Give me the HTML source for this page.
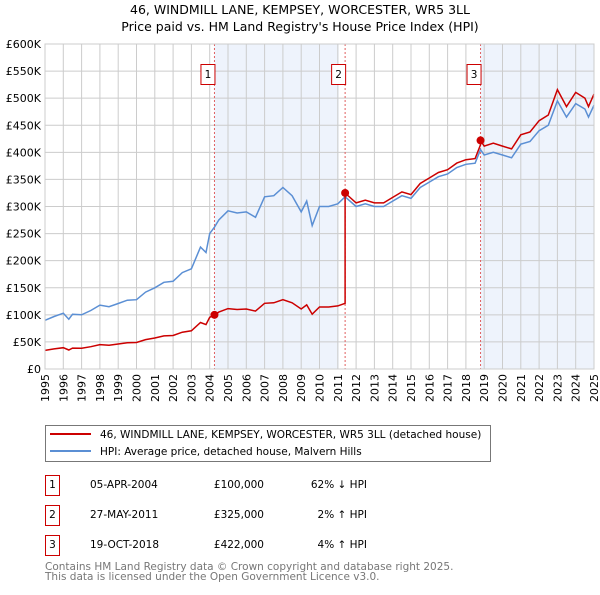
<!DOCTYPE html>
<html><head><meta charset="utf-8"><style>
body{margin:0;background:#fff;font-family:"Liberation Sans","DejaVu Sans",sans-serif;}
svg text{font-family:"DejaVu Sans","Liberation Sans",sans-serif;}
</style></head><body>
<svg id="c" width="600" height="590" xmlns="http://www.w3.org/2000/svg">
<text x="300" y="14" font-size="12.5" text-anchor="middle">46, WINDMILL LANE, KEMPSEY, WORCESTER, WR5 3LL</text>
<text x="300" y="31" font-size="12.5" text-anchor="middle">Price paid vs. HM Land Registry's House Price Index (HPI)</text>
<g id="plot"></g>
<g>
<rect x="45.5" y="425.5" width="445" height="36" fill="#fff" stroke="#777"/>
<line x1="50" y1="434" x2="91" y2="434" stroke="#cc0000" stroke-width="2"/>
<text x="100" y="438" font-size="10.5">46, WINDMILL LANE, KEMPSEY, WORCESTER, WR5 3LL (detached house)</text>
<line x1="50" y1="451" x2="91" y2="451" stroke="#5b8fd4" stroke-width="2"/>
<text x="100" y="455" font-size="10.5">HPI: Average price, detached house, Malvern Hills</text>
</g>
<g font-size="10.5">
<rect x="45.5" y="475.5" width="14" height="20" fill="#fff" stroke="#cc0000"/><text x="52.5" y="488" text-anchor="middle">1</text>
<text x="90" y="488">05-APR-2004</text><text x="264" y="488" text-anchor="end">£100,000</text><text x="367" y="488" text-anchor="end">62% ↓ HPI</text>
<rect x="45.5" y="505.5" width="14" height="20" fill="#fff" stroke="#cc0000"/><text x="52.5" y="518" text-anchor="middle">2</text>
<text x="90" y="518">27-MAY-2011</text><text x="264" y="518" text-anchor="end">£325,000</text><text x="367" y="518" text-anchor="end">2% ↑ HPI</text>
<rect x="45.5" y="535.5" width="14" height="20" fill="#fff" stroke="#cc0000"/><text x="52.5" y="548" text-anchor="middle">3</text>
<text x="90" y="548">19-OCT-2018</text><text x="264" y="548" text-anchor="end">£422,000</text><text x="367" y="548" text-anchor="end">4% ↑ HPI</text>
</g>
<text x="45" y="570" font-size="10.5" fill="#777">Contains HM Land Registry data © Crown copyright and database right 2025.</text>
<text x="45" y="580" font-size="10.5" fill="#777">This data is licensed under the Open Government Licence v3.0.</text>
</svg>
<script>
const hpiYears=[1995,1995.5,1996,1996.3,1996.5,1997,1997.5,1998,1998.5,1999,1999.5,2000,2000.5,2001,2001.5,2002,2002.5,2003,2003.5,2003.8,2004,2004.26,2004.5,2005,2005.5,2006,2006.5,2007,2007.5,2008,2008.5,2009,2009.3,2009.6,2010,2010.5,2011,2011.4,2012,2012.5,2013,2013.5,2014,2014.5,2015,2015.5,2016,2016.5,2017,2017.5,2018,2018.5,2018.8,2019,2019.5,2020,2020.5,2021,2021.5,2022,2022.5,2023,2023.5,2024,2024.5,2024.7,2025];
const hpiValues=[90,97,103,92,101,100,108,118,115,121,127,128,142,150,160,162,178,185,225,215,250,262,275,292,288,290,280,318,320,335,320,290,310,265,300,300,305,318,300,305,300,300,310,320,315,335,345,355,360,372,378,380,405,395,400,395,390,415,420,440,450,495,465,490,480,465,487];
const saleYears=[2004.26,2011.4,2018.8];
const salePrices=[100,325,422];
const saleLabels=["1","2","3"];
const yTicks=[0,50,100,150,200,250,300,350,400,450,500,550,600];
const yTickLabels=["£0","£50K","£100K","£150K","£200K","£250K","£300K","£350K","£400K","£450K","£500K","£550K","£600K"];
const xTicks=[];for(let y=1995;y<=2025;y++)xTicks.push(y);

const X0=45,X1=594,Y0=369,Y1=44;
const sx=y=>X0+(y-1995)/30*(X1-X0);
const sy=v=>Y0-v/600*(Y0-Y1);
const NS="http://www.w3.org/2000/svg";
const g=document.getElementById('plot');
function mk(t,a){const e=document.createElementNS(NS,t);for(const k in a)e.setAttribute(k,a[k]);g.appendChild(e);return e;}
function hpiAt(y){for(let i=1;i<hpiYears.length;i++){if(y<=hpiYears[i]){const t=(y-hpiYears[i-1])/(hpiYears[i]-hpiYears[i-1]);return hpiValues[i-1]+t*(hpiValues[i]-hpiValues[i-1]);}}return hpiValues[hpiValues.length-1];}
// shading
let s1=mk('rect',{x:sx(saleYears[0]),y:Y1,width:sx(saleYears[1]-0.35)-sx(saleYears[0]),height:Y0-Y1,fill:'#eef3fc'});


let s2=mk('rect',{x:sx(saleYears[2]),y:Y1,width:X1-sx(saleYears[2]),height:Y0-Y1,fill:'#eef3fc'});


// grid
xTicks.forEach((t,i)=>{let l=mk('line',{x1:sx(t),x2:sx(t),y1:Y1,y2:Y0,stroke:'#ccc','stroke-width':1});


let tx=mk('text',{x:0,y:0,'font-size':11,'text-anchor':'end',transform:`translate(${sx(t)+4},${Y0+5}) rotate(-90)`});tx.textContent=t;

});
yTicks.forEach((t,i)=>{let l=mk('line',{x1:X0,x2:X1,y1:sy(t),y2:sy(t),stroke:'#ccc','stroke-width':1});


let tx=mk('text',{x:X0-4,y:sy(t)+4,'font-size':11,'text-anchor':'end'});tx.textContent=yTickLabels[i];

});
// sale vlines
saleYears.forEach((y,i)=>{let l=mk('line',{x1:sx(y),x2:sx(y),y1:Y1,y2:Y0,stroke:'#e06060','stroke-width':1,'stroke-dasharray':'2,2'});


let r=mk('rect',{x:sx(y)-13.5,y:64.5,width:14,height:20,fill:'#fff',stroke:'#cc0000'});


let tx=mk('text',{x:sx(y)-6.5,y:78,'font-size':10.5,'text-anchor':'middle'});tx.textContent=saleLabels[i];

});
// hpi
let d=hpiYears.map((y,i)=>(i?'L':'M')+sx(y).toFixed(1)+','+sy(hpiValues[i]).toFixed(1)).join('');
let hp=mk('path',{d:d,fill:'none',stroke:'#5b8fd4','stroke-width':1.5});


// property: indexed from sales
let pd='';
hpiYears.forEach((y,i)=>{let k=0;for(let j=0;j<saleYears.length;j++)if(y>=saleYears[j])k=j;
if(y<saleYears[0])k=0;
const v=hpiValues[i]*salePrices[k]/hpiAt(saleYears[k]);
pd+=(pd?'L':'M')+sx(y).toFixed(1)+','+sy(v).toFixed(1);
for(let j=1;j<saleYears.length;j++){if(y<saleYears[j]&&hpiYears[i+1]>=saleYears[j]){
pd+='L'+sx(saleYears[j]).toFixed(1)+','+sy(hpiAt(saleYears[j])*salePrices[j-1]/hpiAt(saleYears[j-1])).toFixed(1);
pd+='L'+sx(saleYears[j]).toFixed(1)+','+sy(salePrices[j]).toFixed(1);}}});
let pp=mk('path',{d:pd,fill:'none',stroke:'#cc0000','stroke-width':1.5});


saleYears.forEach((y,i)=>{let c=mk('circle',{cx:sx(y),cy:sy(salePrices[i]),r:4,fill:'#cc0000'});

});
let fr=mk('rect',{x:X0,y:Y1,width:X1-X0,height:Y0-Y1,fill:'none',stroke:'#ccc'});


</script>
</body></html>
